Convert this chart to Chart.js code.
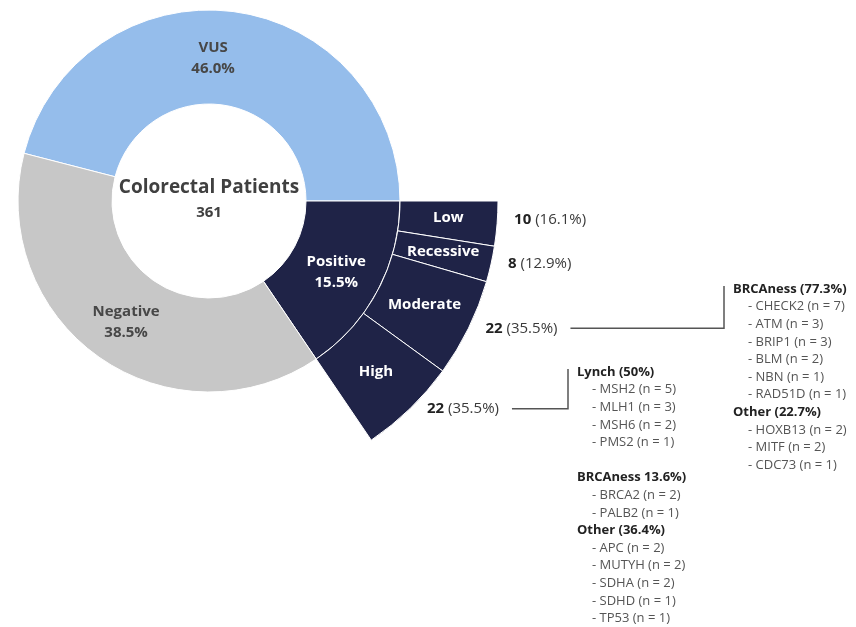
<!DOCTYPE html>
<html>
<head>
<meta charset="utf-8">
<script src="https://cdn.jsdelivr.net/npm/chart.js@4.4.0/dist/chart.umd.min.js"></script>
<style>
  html, body { margin: 0; padding: 0; background: #fff; }
  #wrap { width: 856px; height: 627px; position: relative; }
</style>
</head>
<body>
<div id="wrap"><canvas id="chart" width="856" height="627"></canvas></div>
<script>
// ---- data ----
const totalPatients = 361;
const resultLabels = ['VUS', 'Positive', 'Negative'];
const resultCounts = [166, 56, 139];
const resultPercents = ['46.0%', '15.5%', '38.5%'];

const riskLabels = ['Low', 'Recessive', 'Moderate', 'High'];
const riskCounts = [10, 8, 22, 22];
const riskPercents = ['16.1%', '12.9%', '35.5%', '35.5%'];

const moderateGroups = ['BRCAness (77.3%)', 'Other (22.7%)'];
const moderateGenes = [['CHECK2', 'ATM', 'BRIP1', 'BLM', 'NBN', 'RAD51D'], ['HOXB13', 'MITF', 'CDC73']];
const moderateGeneCounts = [[7, 3, 3, 2, 1, 1], [2, 2, 1]];

const highGroups = ['Lynch (50%)', 'BRCAness 13.6%)', 'Other (36.4%)'];
const highGenes = [['MSH2', 'MLH1', 'MSH6', 'PMS2'], ['BRCA2', 'PALB2'], ['APC', 'MUTYH', 'SDHA', 'SDHD', 'TP53']];
const highGeneCounts = [[5, 3, 2, 1], [2, 1], [2, 2, 2, 1, 1]];

// ---- look ----
const colors = { VUS: '#95bdeb', Positive: '#1f2347', Negative: '#c7c7c7' };
const FONT = '"Open Sans", "Noto Sans", sans-serif';
const outerR = 289, ringR = 191, holeR = 97;
const lineH = 17.6;
const labelNudge = { VUS: [-14, 0], Positive: [0, 3], Negative: [0, 3] };

// where the gene lists sit, keyed by risk band
const lists = {
  Moderate: { x: 733, y: 289, groups: moderateGroups, genes: moderateGenes, counts: moderateGeneCounts, gaps: [0, 0] },
  High: { x: 577, y: 372, groups: highGroups, genes: highGenes, counts: highGeneCounts, gaps: [1, 0, 0] }
};

const positiveIdx = resultLabels.indexOf('Positive');
const riskTotal = riskCounts.reduce((a, b) => a + b, 0);
// outer ring: transparent placeholders around the split Positive slice
const outerData = [resultCounts[0]]
  .concat(riskCounts.map(v => v * resultCounts[positiveIdx] / riskTotal))
  .concat([resultCounts[2]]);
const outerColors = ['rgba(0,0,0,0)'].concat(riskLabels.map(() => colors.Positive)).concat(['rgba(0,0,0,0)']);
const outerBorders = [0].concat(riskLabels.map(() => 1)).concat([0]);

const rotation = 90 - 360 * resultCounts[0] / totalPatients;

const labelPlugin = {
  id: 'labels',
  afterDatasetsDraw(chart) {
    const ctx = chart.ctx;
    const inner = chart.getDatasetMeta(1).data;
    const outer = chart.getDatasetMeta(0).data;
    const cx = inner[0].x, cy = inner[0].y;
    ctx.save();
    ctx.textAlign = 'center';
    ctx.textBaseline = 'middle';

    ctx.fillStyle = '#404040';
    ctx.font = 'bold 19px ' + FONT;
    ctx.fillText('Colorectal Patients', cx, cy - 13);
    ctx.font = 'bold 15px ' + FONT;
    ctx.fillText(String(totalPatients), cx, cy + 12);

    inner.forEach((arc, i) => {
      const p = arc.getCenterPoint();
      const n = labelNudge[resultLabels[i]] || [0, 0];
      ctx.fillStyle = i === positiveIdx ? '#ffffff' : '#474747';
      ctx.font = 'bold 15px ' + FONT;
      ctx.fillText(resultLabels[i], p.x + n[0], p.y + n[1] - 10);
      ctx.fillText(resultPercents[i], p.x + n[0], p.y + n[1] + 11);
    });

    riskLabels.forEach((name, i) => {
      const arc = outer[i + 1];
      const p = arc.getCenterPoint();
      ctx.textAlign = 'center';
      ctx.fillStyle = '#ffffff';
      ctx.font = 'bold 15px ' + FONT;
      ctx.fillText(name, p.x, p.y - 2);

      // count label just outside the band
      const mid = (arc.startAngle + arc.endAngle) / 2;
      const lx = cx + arc.outerRadius * Math.cos(mid) + 17;
      const ly = cy + arc.outerRadius * Math.sin(mid) - (i === 0 ? 4 : 0);
      ctx.textAlign = 'left';
      ctx.fillStyle = '#222';
      ctx.font = 'bold 15px ' + FONT;
      const numTxt = String(riskCounts[i]);
      ctx.fillText(numTxt, lx, ly);
      const w1 = ctx.measureText(numTxt).width;
      ctx.fillStyle = '#3a3a3a';
      ctx.font = '15px ' + FONT;
      const pctTxt = ' (' + riskPercents[i] + ')';
      ctx.fillText(pctTxt, lx + w1, ly);
      const endX = lx + w1 + ctx.measureText(pctTxt).width;

      const list = lists[name];
      if (!list) return;
      ctx.strokeStyle = '#555';
      ctx.lineWidth = 1.5;
      ctx.beginPath();
      ctx.moveTo(endX + 13, ly);
      ctx.lineTo(list.x - 9, ly);
      ctx.lineTo(list.x - 9, list.y - 3);
      ctx.stroke();

      let y = list.y;
      list.groups.forEach((g, gi) => {
        ctx.fillStyle = '#222';
        ctx.font = 'bold 13px ' + FONT;
        ctx.fillText(g, list.x, y);
        y += lineH;
        ctx.fillStyle = '#555';
        ctx.font = '13px ' + FONT;
        list.genes[gi].forEach((gene, k) => {
          ctx.fillText('- ' + gene + ' (n = ' + list.counts[gi][k] + ')', list.x + 15, y);
          y += lineH;
        });
        y += lineH * list.gaps[gi];
      });
    });
    ctx.restore();
  }
};

new Chart(document.getElementById('chart'), {
  type: 'doughnut',
  data: {
    labels: ['VUS'].concat(riskLabels).concat(['Negative']),
    datasets: [
      {
        data: outerData,
        backgroundColor: outerColors,
        borderColor: '#ffffff',
        borderWidth: outerBorders,
        weight: outerR - ringR,
        clip: false
      },
      {
        data: resultCounts,
        backgroundColor: resultLabels.map(l => colors[l]),
        borderColor: '#ffffff',
        borderWidth: 1,
        weight: ringR - holeR,
        clip: false
      }
    ]
  },
  options: {
    responsive: false,
    animation: false,
    events: [],
    radius: outerR,
    cutout: (holeR / outerR * 100) + '%',
    rotation: rotation,
    layout: { padding: { left: 0, top: 0, right: 438, bottom: 225 } },
    plugins: { legend: { display: false }, tooltip: { enabled: false } }
  },
  plugins: [labelPlugin]
});
</script>
</body>
</html>
